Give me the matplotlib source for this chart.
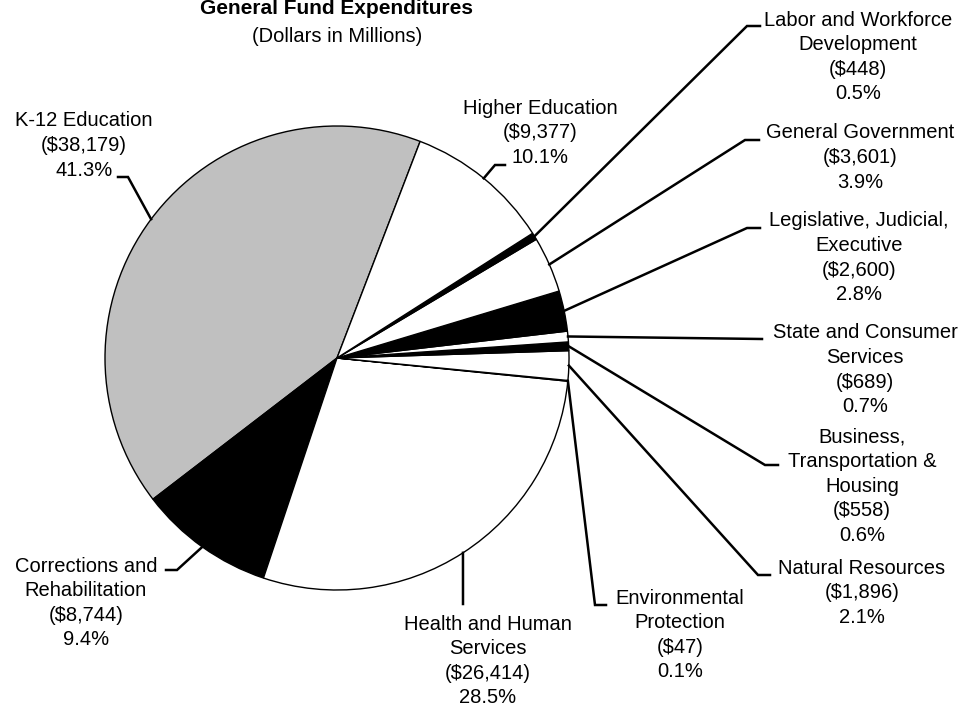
import matplotlib
matplotlib.use("Agg")
import matplotlib.pyplot as plt
import numpy as np

plt.rcParams['font.family'] = ['Liberation Sans', 'DejaVu Sans']

# ---- data ----
categories = ["K-12 Education", "Corrections and\nRehabilitation", "Health and Human\nServices",
              "Environmental\nProtection", "Natural Resources", "Business,\nTransportation &\nHousing",
              "State and Consumer\nServices", "Legislative, Judicial,\nExecutive", "General Government",
              "Labor and Workforce\nDevelopment", "Higher Education"]
values = [38179, 8744, 26414, 47, 1896, 558, 689, 2600, 3601, 448, 9377]
percents = ["41.3%", "9.4%", "28.5%", "0.1%", "2.1%", "0.6%", "0.7%", "2.8%", "3.9%", "0.5%", "10.1%"]
colors = ["#C0C0C0", "black", "white", "black", "white", "black", "white", "black", "white", "black", "white"]

# ---- layout (pixel coordinates, y measured from top) ----
W, H = 967, 707
CX, CY, R = 337, 358, 232
# elbow point, end point of leader, label centre x, first-line centre y
layout = [
    ((128, 177), (118, 177), 84, 121),
    ((177, 570), (166, 570), 86, 566),
    ((463, 604), (463, 604), 488, 624),
    ((595, 605), (606, 605), 680, 598),
    ((758, 575), (770, 575), 862, 568),
    ((765, 465), (778, 465), 862, 437),
    ((762, 339), (762, 339), 865, 333),
    ((747, 228), (760, 228), 859, 221),
    ((745, 140), (759, 140), 860, 133),
    ((747, 26), (760, 26), 858, 20),
    ((495, 165), (505, 165), 540, 108),
]
LINE = 24.6
FS = 14.5

fig = plt.figure(figsize=(W / 100, H / 100), dpi=100)
ax = fig.add_axes([0, 0, 1, 1])
ax.set_xlim(0, W)
ax.set_ylim(0, H)
ax.axis('off')

def Y(y):
    return H - y

wedges, _ = ax.pie(values, colors=colors, startangle=69, counterclock=True,
                   center=(CX, Y(CY)), radius=R,
                   wedgeprops=dict(edgecolor='black', linewidth=1.0))
ax.set_xlim(0, W)
ax.set_ylim(0, H)
ax.set_aspect('equal', adjustable='box')

for w, cat, v, p, (elb, end, tx, ty) in zip(wedges, categories, values, percents, layout):
    th = np.deg2rad((w.theta1 + w.theta2) / 2)
    sx = CX + R * np.cos(th)
    sy = Y(CY) + R * np.sin(th)
    ax.plot([sx, elb[0], end[0]], [sy, Y(elb[1]), Y(end[1])], color='black', lw=1.8,
            solid_joinstyle='miter', zorder=3)
    lines = cat.split("\n") + [f"(${v:,})", p]
    for i, ln in enumerate(lines):
        ax.text(tx, Y(ty + i * LINE), ln, ha='center', va='center', fontsize=FS, color='black')

ax.text(CX, Y(9), "General Fund Expenditures", ha='center', va='center', fontsize=15, fontweight='bold')
ax.text(CX, Y(37), "(Dollars in Millions)", ha='center', va='center', fontsize=FS)

fig.savefig("out.png", dpi=100)
